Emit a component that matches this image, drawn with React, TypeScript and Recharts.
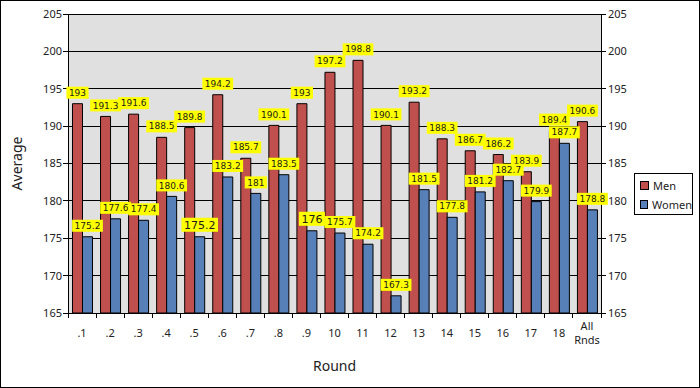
import React from 'react';
import { BarChart, Bar, XAxis, YAxis, CartesianGrid, Legend, Label } from 'recharts';

// averages per round
const rounds = ['.1', '.2', '.3', '.4', '.5', '.6', '.7', '.8', '.9', '10', '11', '12', '13', '14', '15', '16', '17', '18', 'All Rnds'];
const men = [193, 191.3, 191.6, 188.5, 189.8, 194.2, 185.7, 190.1, 193, 197.2, 198.8, 190.1, 193.2, 188.3, 186.7, 186.2, 183.9, 189.4, 190.6];
const women = [175.2, 177.6, 177.4, 180.6, 175.2, 183.2, 181, 183.5, 176, 175.7, 174.2, 167.3, 181.5, 177.8, 181.2, 182.7, 179.9, 187.7, 178.8];
const yTicks = [165, 170, 175, 180, 185, 190, 195, 200, 205];
// these two women labels are set in a bigger font in the original
const bigWomenLabels = ['.5', '.9'];

const data = rounds.map((round, i) => ({ round, men: men[i], women: women[i] }));

const W = 700;
const H = 388;
const LEFT_W = 68;
const RIGHT_W = 99;
const bandWidth = (W - LEFT_W - RIGHT_W) / rounds.length;

const axisFont = 'Noto Sans, DejaVu Sans, sans-serif';

const makeLabel = (series: string) => (props: any) => {
  const { x, y, width, value, index } = props;
  const big = series === 'women' && bigWomenLabels.includes(rounds[index]);
  const fs = big ? 11 : 9;
  const text = String(value);
  const digits = text.replace('.', '').length;
  const dots = text.length - digits;
  const w = digits * fs * 0.636 + dots * fs * 0.318 + 5;
  const h = fs + 3;
  const cx = x + width / 2;
  const bottom = y - 5;
  return (
    <g>
      <rect x={cx - w / 2} y={bottom - h} width={w} height={h} fill="#ffff00" />
      <text x={cx} y={bottom - h / 2} dy="0.35em" textAnchor="middle" fontSize={fs}
        fontFamily="DejaVu Sans, sans-serif" fill="#1a1a1a">{text}</text>
    </g>
  );
};

const RoundTick = (props: any) => {
  const { x, y, payload, index } = props;
  const left = x - bandWidth / 2;
  const parts = String(payload.value).split(' ');
  return (
    <g>
      <line x1={left} x2={left} y1={y - 7} y2={y - 2} stroke="#000" shapeRendering="crispEdges" />
      {index === rounds.length - 1 && (
        <line x1={x + bandWidth / 2} x2={x + bandWidth / 2} y1={y - 7} y2={y - 2} stroke="#000" shapeRendering="crispEdges" />
      )}
      {parts.map((p, i) => (
        <text key={i} x={x} y={parts.length > 1 ? y + 10 + i * 14 : y + 17} textAnchor="middle"
          fontSize={11} fontFamily={axisFont} fill="#222">{p}</text>
      ))}
    </g>
  );
};

const LegendBox = (props: any) => {
  const { payload } = props;
  return (
    <div style={{ width: 59, height: 42, border: '1px solid #000', background: '#fff', boxSizing: 'border-box', paddingTop: 2 }}>
      {(payload || []).map((p: any) => (
        <div key={p.value} style={{ display: 'flex', alignItems: 'center', height: 19, paddingLeft: 5 }}>
          <span style={{ width: 7, height: 7, background: p.color, border: '1px solid #000', marginRight: 4 }} />
          <span style={{ fontFamily: axisFont, fontSize: 11, color: '#222' }}>{p.value}</span>
        </div>
      ))}
    </div>
  );
};

export default function App() {
  return (
    <div style={{ position: 'absolute', left: 0, top: 0, width: W, height: H, background: '#fff' }}>
      <BarChart width={W} height={H} data={data} margin={{ top: 14, right: 0, bottom: 0, left: 0 }}
        barGap={0} barCategoryGap="16%">
        <CartesianGrid yAxisId="left" vertical={false} stroke="#000" fill="#e0e0e0" fillOpacity={1}
          shapeRendering="crispEdges" />
        <XAxis dataKey="round" height={75} interval={0} tickSize={5} tickMargin={2} tickLine={false}
          axisLine={{ stroke: '#000', shapeRendering: 'crispEdges' }} tick={<RoundTick />}>
          <Label content={(p: any) => (
            <text x={p.viewBox.x + p.viewBox.width / 2} y={p.viewBox.y + 58} textAnchor="middle"
              fontSize={14} fontFamily={axisFont} fill="#222">Round</text>
          )} />
        </XAxis>
        <YAxis yAxisId="left" width={LEFT_W} domain={[165, 205]} ticks={yTicks} interval={0} allowDataOverflow
          tickSize={5} tickMargin={1} axisLine={{ stroke: '#000', shapeRendering: 'crispEdges' }}
          tickLine={{ stroke: '#000', shapeRendering: 'crispEdges' }}
          tick={{ fill: '#222', fontSize: 11, fontFamily: axisFont }}>
          <Label content={(p: any) => {
            const cx = p.viewBox.x + 22;
            const cy = p.viewBox.y + p.viewBox.height / 2;
            return (
              <text x={cx} y={cy} transform={`rotate(-90 ${cx} ${cy})`} textAnchor="middle"
                fontSize={14} fontFamily={axisFont} fill="#222">Average</text>
            );
          }} />
        </YAxis>
        <YAxis yAxisId="right" orientation="right" width={RIGHT_W} domain={[165, 205]} ticks={yTicks}
          interval={0} allowDataOverflow tickSize={5} tickMargin={2}
          axisLine={{ stroke: '#000', shapeRendering: 'crispEdges' }}
          tickLine={{ stroke: '#000', shapeRendering: 'crispEdges' }}
          tick={{ fill: '#222', fontSize: 11, fontFamily: axisFont }} />
        <Legend layout="horizontal" verticalAlign="middle" align="center" content={<LegendBox />}
          wrapperStyle={{ left: 634, top: 173, width: 59, height: 42, right: 'auto', bottom: 'auto' }} />
        <Bar yAxisId="left" dataKey="men" name="Men" fill="#c0504d" stroke="#000" strokeWidth={1}
          isAnimationActive={false} label={makeLabel('men')} />
        <Bar yAxisId="left" dataKey="women" name="Women" fill="#5880b8" stroke="#000" strokeWidth={1}
          isAnimationActive={false} label={makeLabel('women')} />
      </BarChart>
      <div style={{ position: 'absolute', inset: 0, border: '1px solid #000', pointerEvents: 'none' }} />
    </div>
  );
}
